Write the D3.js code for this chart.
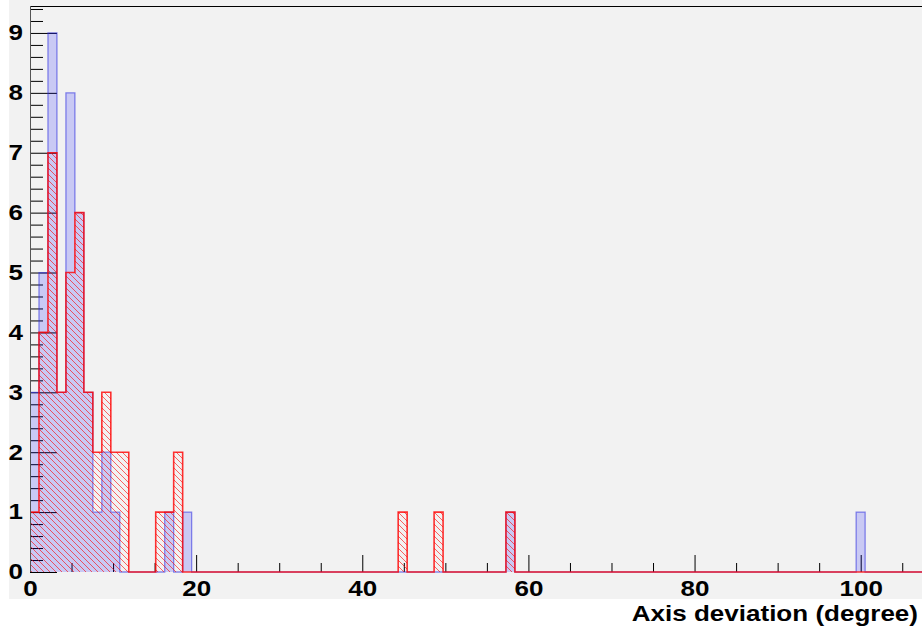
<!DOCTYPE html>
<html>
<head>
<meta charset="utf-8">
<script src="https://cdn.jsdelivr.net/npm/d3@7"></script>
<style>
  html, body { margin: 0; padding: 0; background: #ffffff; }
  svg { display: block; }
  text { font-family: "Liberation Sans", Arial, Helvetica, sans-serif; font-weight: bold; }
</style>
</head>
<body>
<svg id="chart" width="922" height="632"></svg>
<script>
// Histogram binning (degrees)
const binWidth = 1.081;
const nBins = 100;

// Blue histogram: non-empty bins and their entries
const blueBin   = [0, 1, 2, 3, 4, 5, 6, 7, 8, 9, 15, 17, 53, 92];
const blueCount = [3, 5, 9, 3, 8, 6, 3, 1, 2, 1, 1, 1, 1, 1];

// Red (hatched) histogram: non-empty bins and their entries
const redBin   = [0, 1, 2, 3, 4, 5, 6, 7, 8, 9, 10, 14, 15, 16, 41, 45, 53];
const redCount = [1, 4, 7, 3, 5, 6, 3, 2, 3, 2, 2, 1, 1, 2, 1, 1, 1];

// Axis ticks
const xMajorTicks = [0, 20, 40, 60, 80, 100];
const yMajorTicks = [0, 1, 2, 3, 4, 5, 6, 7, 8, 9];
const xTitle = "Axis deviation (degree)";

const svg = d3.select("#chart");
const W = 922, H = 632;
const x0 = 30, xBottom = 572, yTop = 6;
const fontSize = 21.5, stretch = 1.21;

const x = d3.scaleLinear().domain([0, 110]).range([x0, x0 + 110 * 8.307]);
const y = d3.scaleLinear().domain([0, 9.45]).range([xBottom, yTop]);

// dense per-bin arrays from the sparse lists
function dense(bins, counts) {
  const a = new Array(nBins).fill(0);
  bins.forEach((b, i) => { a[b] = counts[i]; });
  return a;
}
const blue = dense(blueBin, blueCount);
const red = dense(redBin, redCount);

// step points: (lower edge, value) for each bin, closed at the last upper edge
function stepPoints(vals) {
  const pts = vals.map((v, i) => [i * binWidth, v]);
  pts.push([nBins * binWidth, vals[nBins - 1]]);
  return pts;
}

// pad background
svg.append("rect").attr("x", 9).attr("y", 0).attr("width", W - 9).attr("height", 599)
  .attr("fill", "#f2f2f2");

// hatch pattern for the red histogram
const defs = svg.append("defs");
const pat = defs.append("pattern").attr("id", "hatch")
  .attr("patternUnits", "userSpaceOnUse").attr("width", 6).attr("height", 6);
pat.append("path").attr("d", "M-1,-1 L7,7 M-1,5 L1,7 M5,-1 L7,1")
  .attr("stroke", "#ff0000").attr("stroke-opacity", 0.6).attr("stroke-width", 1).attr("fill", "none");

const clip = defs.append("clipPath").attr("id", "plotclip");
clip.append("rect").attr("x", x0).attr("y", yTop - 2).attr("width", W - x0).attr("height", xBottom - yTop + 4);

const area = d3.area().curve(d3.curveStepAfter)
  .x(d => x(d[0])).y0(y(0)).y1(d => y(d[1]));
const line = d3.line().curve(d3.curveStepAfter)
  .x(d => x(d[0])).y(d => y(d[1]));

// frame top line
svg.append("line").attr("x1", x0).attr("x2", W).attr("y1", yTop + 0.5).attr("y2", yTop + 0.5)
  .attr("stroke", "#000").attr("stroke-width", 1);

// y axis: major ticks with labels, minor ticks every 0.2
const yMinor = d3.range(0, 9.45, 0.2).filter(v => Math.abs(v - Math.round(v)) > 1e-6);
const gyMinor = svg.append("g").attr("transform", `translate(${x0},0)`)
  .call(d3.axisLeft(y).tickValues(yMinor).tickSizeInner(-13).tickSizeOuter(0).tickFormat(""));
gyMinor.select(".domain").remove();
const gy = svg.append("g").attr("transform", `translate(${x0},0)`)
  .call(d3.axisLeft(y).tickValues(yMajorTicks).tickSizeInner(-27).tickSizeOuter(0).tickPadding(7)
    .tickFormat(d3.format("d")));
gy.select(".domain").attr("d", `M0.5,${yTop}V${xBottom}`).attr("stroke", "#444");
gy.selectAll("text").attr("font-size", fontSize).attr("fill", "#000")
  .attr("x", 0).attr("transform", `translate(-7,0) scale(${stretch},1)`)
  .style("font-family", "'Liberation Sans', Arial, sans-serif").style("font-weight", "bold");

// x axis: labelled ticks every 20, secondary ticks every 5
const xMinor = d3.range(0, 110, 5).filter(v => v % 20 !== 0);
const gxMinor = svg.append("g").attr("transform", `translate(0,${xBottom})`)
  .call(d3.axisBottom(x).tickValues(xMinor).tickSizeInner(-9).tickSizeOuter(0).tickFormat(""));
gxMinor.select(".domain").remove();
const gx = svg.append("g").attr("transform", `translate(0,${xBottom})`)
  .call(d3.axisBottom(x).tickValues(xMajorTicks).tickSizeInner(-17).tickSizeOuter(0).tickPadding(9)
    .tickFormat(d3.format("d")));
gx.select(".domain").remove();
gx.selectAll("text").attr("font-size", fontSize).attr("fill", "#000")
  .attr("transform", `scale(${stretch},1)`)
  .style("font-family", "'Liberation Sans', Arial, sans-serif").style("font-weight", "bold");
svg.selectAll(".tick line").attr("stroke", "#000");

// histograms on top of the tick marks
const plot = svg.append("g").attr("clip-path", "url(#plotclip)");

const bluePts = stepPoints(blue);
plot.append("path").datum(bluePts).attr("d", area)
  .attr("fill", "#0000ff").attr("fill-opacity", 0.17);
plot.append("path").datum(bluePts).attr("d", line)
  .attr("fill", "none").attr("stroke", "#3030e0").attr("stroke-opacity", 0.55).attr("stroke-width", 1.3);

const redPts = stepPoints(red);
plot.append("path").datum(redPts).attr("d", area)
  .attr("fill", "url(#hatch)");
plot.append("path").datum(redPts).attr("d", line)
  .attr("fill", "none").attr("stroke", "#ff0000").attr("stroke-opacity", 0.8).attr("stroke-width", 1.6);

// y axis line above the fills
svg.append("line").attr("x1", x0 + 0.5).attr("x2", x0 + 0.5).attr("y1", yTop).attr("y2", xBottom)
  .attr("stroke", "#555").attr("stroke-width", 1);

// x axis title
svg.append("text").attr("x", 0).attr("y", 0)
  .attr("transform", `translate(918,620.5) scale(${stretch},1)`)
  .attr("text-anchor", "end")
  .attr("font-size", fontSize).attr("fill", "#000").text(xTitle);
</script>
</body>
</html>
